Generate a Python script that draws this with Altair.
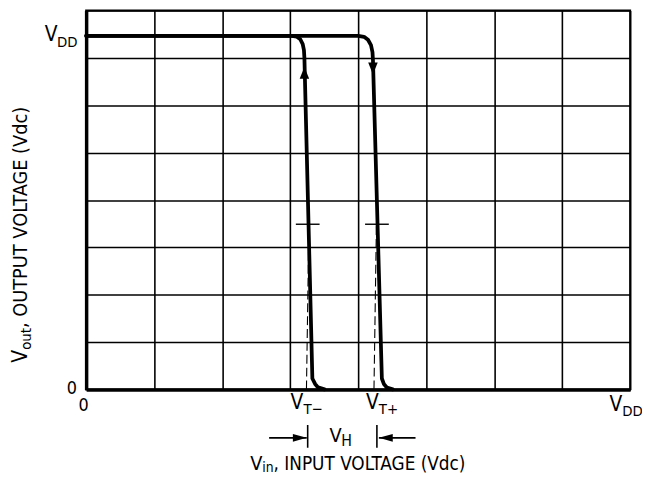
import altair as alt
import pandas as pd

FONT = "Liberation Sans Narrow, Arial Narrow, DejaVu Sans Condensed, Liberation Sans, sans-serif"

# grid divisions on both axes
GRID = list(range(9))

# transfer curves (V_in, V_out), in grid divisions
rise_vin = [0.0, 3.025, 3.098, 3.149, 3.185, 3.203, 3.210, 3.327, 3.367, 3.411, 3.505]
rise_vout = [7.467, 7.467, 7.447, 7.394, 7.290, 7.164, 6.997, 0.230, 0.115, 0.042, 0.0]
fall_vin = [0.0, 4.0, 4.087, 4.145, 4.189, 4.211, 4.218, 4.349, 4.378, 4.422, 4.509]
fall_vout = [7.467, 7.467, 7.447, 7.384, 7.269, 7.123, 6.956, 0.230, 0.115, 0.042, 0.0]

# threshold dashed guides
dash_x = [3.276, 3.240, 4.269, 4.233]
dash_y = [3.488, 0.0, 3.488, 0.0]
dash_id = ["vtm", "vtm", "vtp", "vtp"]

# short marker ticks at the thresholds
tick_x1 = [3.084, 4.102]
tick_x2 = [3.433, 4.451]
tick_y = [3.488, 3.488]

# direction arrows on the curves
arrow_x = [3.210, 4.218]
arrow_y = [6.684, 6.778]
arrow_shape = ["M-0.8,1L0,-1L0.8,1Z", "M-0.8,-1L0,1L0.8,-1Z"]

# V_H dimension: bars and arrow shafts
bar_x = [3.258, 4.276]
bar_y1 = [-0.752, -0.752]
bar_y2 = [-1.232, -1.232]
shaft_x1 = [2.691, 4.305]
shaft_x2 = [3.244, 4.844]
shaft_y = [-1.023, -1.023]
head_x = [3.142, 4.407]
head_y = [-1.023, -1.023]
head_shape = ["M-1,-0.57L1,0L-1,0.57Z", "M1,-0.57L-1,0L1,0.57Z"]

# labels (centered)
lab_c_text = ["0", "0", "V", "V", "V", "V", "V"]
lab_c_x = [-0.211, -0.036, -0.516, 3.100, 4.210, 7.790, 3.670]
lab_c_y = [0.0, -0.355, 7.478, -0.292, -0.292, -0.334, -0.992]
lab_c_size = [18, 18, 21, 21, 21, 21, 20]

# subscripts & title pieces (left aligned)
lab_l_text = ["DD", "T\u2212", "T+", "DD", "H", "V", "in", ", INPUT VOLTAGE (Vdc)"]
lab_l_x = [-0.429, 3.195, 4.305, 7.884, 3.752, 2.415, 2.589, 2.756]
lab_l_y = [7.342, -0.418, -0.418, -0.449, -1.097, -1.567, -1.671, -1.567]
lab_l_size = [15, 15, 15, 15, 16, 20, 14, 19]

# vertical axis title pieces (rotated)
lab_v_text = ["V", "out", " , OUTPUT VOLTAGE (Vdc)"]
lab_v_x = [-0.950, -0.884, -0.950]
lab_v_y = [0.564, 0.836, 1.295]
lab_v_size = [21, 15, 20]

sx = alt.Scale(domain=[0, 8], nice=False, zero=False)
sy = alt.Scale(domain=[0, 8], nice=False, zero=False)

curves = pd.DataFrame({
    "x": rise_vin + fall_vin,
    "y": rise_vout + fall_vout,
    "curve": ["rise"] * len(rise_vin) + ["fall"] * len(fall_vin),
    "order": list(range(len(rise_vin))) + list(range(len(fall_vin))),
})

axis_style = dict(values=GRID, labels=False, ticks=False, title="",
                  domainWidth=3.5, domainColor="black",
                  grid=True, gridColor="black", gridWidth=1.6, gridOpacity=1)

base_axes = alt.Chart(curves).mark_line(
    color="black", strokeWidth=3.8, strokeJoin="round", strokeCap="round"
).encode(
    x=alt.X("x:Q", scale=sx, axis=alt.Axis(**axis_style)),
    y=alt.Y("y:Q", scale=sy, axis=alt.Axis(**axis_style)),
    detail="curve:N",
    order="order:Q",
)

dashes = alt.Chart(pd.DataFrame({"x": dash_x, "y": dash_y, "id": dash_id})).mark_line(
    color="black", strokeWidth=1.1, strokeDash=[9, 4]
).encode(x=alt.X("x:Q", scale=sx), y=alt.Y("y:Q", scale=sy), detail="id:N")

ticks = alt.Chart(pd.DataFrame({"x": tick_x1, "x2": tick_x2, "y": tick_y})).mark_rule(
    color="black", strokeWidth=1.4
).encode(x=alt.X("x:Q", scale=sx), x2="x2:Q", y=alt.Y("y:Q", scale=sy))

arrows = alt.Chart(pd.DataFrame({"x": arrow_x, "y": arrow_y, "s": arrow_shape})).mark_point(
    filled=True, color="black", opacity=1, size=144
).encode(x=alt.X("x:Q", scale=sx), y=alt.Y("y:Q", scale=sy), shape=alt.Shape("s:N", scale=None))

bars = alt.Chart(pd.DataFrame({"x": bar_x, "y": bar_y1, "y2": bar_y2})).mark_rule(
    color="black", strokeWidth=1.6
).encode(x=alt.X("x:Q", scale=sx), y=alt.Y("y:Q", scale=sy), y2="y2:Q")

shafts = alt.Chart(pd.DataFrame({"x": shaft_x1, "x2": shaft_x2, "y": shaft_y})).mark_rule(
    color="black", strokeWidth=1.6
).encode(x=alt.X("x:Q", scale=sx), x2="x2:Q", y=alt.Y("y:Q", scale=sy))

heads = alt.Chart(pd.DataFrame({"x": head_x, "y": head_y, "s": head_shape})).mark_point(
    filled=True, color="black", opacity=1, size=196
).encode(x=alt.X("x:Q", scale=sx), y=alt.Y("y:Q", scale=sy), shape=alt.Shape("s:N", scale=None))

lab_c = alt.Chart(pd.DataFrame({"x": lab_c_x, "y": lab_c_y, "t": lab_c_text, "fs": lab_c_size})).mark_text(
    align="center", baseline="middle", font=FONT, color="black"
).encode(x=alt.X("x:Q", scale=sx), y=alt.Y("y:Q", scale=sy), text="t:N",
         size=alt.Size("fs:Q", scale=None))

lab_l = alt.Chart(pd.DataFrame({"x": lab_l_x, "y": lab_l_y, "t": lab_l_text, "fs": lab_l_size})).mark_text(
    align="left", baseline="middle", font=FONT, color="black"
).encode(x=alt.X("x:Q", scale=sx), y=alt.Y("y:Q", scale=sy), text="t:N",
         size=alt.Size("fs:Q", scale=None))

lab_v = alt.Chart(pd.DataFrame({"x": lab_v_x, "y": lab_v_y, "t": lab_v_text, "fs": lab_v_size})).mark_text(
    align="left", baseline="middle", angle=270, font=FONT, color="black"
).encode(x=alt.X("x:Q", scale=sx), y=alt.Y("y:Q", scale=sy), text="t:N",
         size=alt.Size("fs:Q", scale=None))

chart = alt.layer(
    base_axes, dashes, ticks, arrows, bars, shafts, heads, lab_c, lab_l, lab_v
).properties(
    width=550, height=383,
    autosize=alt.AutoSizeParams(type="none"),
    padding={"left": 79, "top": 0, "right": 12, "bottom": 91},
).configure_view(stroke="black", strokeWidth=2)

chart.save("out.html", embed_options={"renderer": "svg", "actions": False})
